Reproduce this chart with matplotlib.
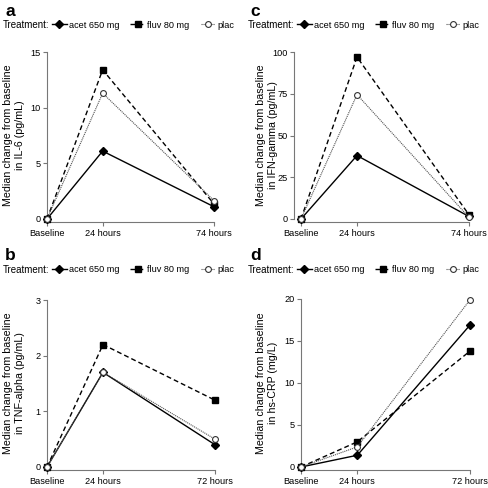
import matplotlib
matplotlib.use("Agg")
import matplotlib.pyplot as plt
from matplotlib.lines import Line2D

plt.rcParams['font.family'] = ['Liberation Sans', 'DejaVu Sans']

hours = [0, 24, 72]
xlabels_74 = ["Baseline", "24 hours", "74 hours"]
xlabels_72 = ["Baseline", "24 hours", "72 hours"]

il6_acet = [0, 6.1, 1.1]
il6_fluv = [0, 13.4, 1.35]
il6_plac = [0, 11.3, 1.65]

tnf_acet = [0, 1.7, 0.4]
tnf_fluv = [0, 2.2, 1.2]
tnf_plac = [0, 1.7, 0.5]

ifn_acet = [0, 38, 1.5]
ifn_fluv = [0, 97, 2.5]
ifn_plac = [0, 74.5, 1.0]

crp_acet = [0, 1.4, 16.9]
crp_fluv = [0, 3.0, 13.8]
crp_plac = [0, 2.4, 19.9]

series_names = ["acet 650 mg", "fluv 80 mg", "plac"]

W = 488.0
fig = plt.figure(figsize=(4.88, 4.88), dpi=100)

styles = [
    dict(color='black', ls='-', lw=1.0, marker='D', ms=3.6, mfc='black', mec='black'),
    dict(color='black', ls=(0, (3.5, 2.2)), lw=1.0, marker='s', ms=3.8, mfc='black', mec='black'),
    dict(color='#555555', ls=(0, (1, 0.8)), lw=0.8, marker='o', ms=4.2, mfc='white', mec='#333333', mew=0.8),
]

spine_col = '#777777'


def panel(rect, label, data, yticks, ylabel, xlabels, left_px, top_px, ylab_x, left_off=0):
    ax = fig.add_axes(rect)
    for vals, st in zip(data, styles):
        ax.plot(hours, vals, clip_on=False, zorder=3, **st)
    ax.set_xlim(0, 72)
    ax.set_ylim(0, yticks[-1])
    for s in ['top', 'right']:
        ax.spines[s].set_visible(False)
    ax.spines['left'].set_bounds(0, yticks[-1])
    ax.spines['left'].set_position(('outward', left_off))
    ax.spines['bottom'].set_position(('outward', 2.5))
    ax.spines['bottom'].set_bounds(0, 72)
    for s in ['left', 'bottom']:
        ax.spines[s].set_color(spine_col)
        ax.spines[s].set_linewidth(0.8)
    ax.set_yticks(yticks)
    ax.set_yticklabels([str(t) for t in yticks])
    ax.set_xticks(hours)
    ax.set_xticklabels(xlabels)
    ax.tick_params(axis='both', colors=spine_col, labelcolor='black', labelsize=6.6,
                   length=3, width=0.8, pad=1.5)
    ax.patch.set_visible(False)
    # panel label
    fig.text((left_px + 1) / W, 1 - top_px / W, label, fontsize=12.5, fontweight='bold',
             ha='left', va='center')
    # legend row
    fig.text((left_px - 1) / W, 1 - (top_px + 14) / W, "Treatment:", fontsize=7.0,
             ha='left', va='center')
    handles = [Line2D([], [], **st) for st in styles]
    fig.legend(handles, series_names, loc='center left',
               bbox_to_anchor=((left_px + 48) / W, 1 - (top_px + 14) / W),
               ncol=3, frameon=False, fontsize=6.6, handlelength=1.6,
               handletextpad=0.25, columnspacing=1.2, borderpad=0, borderaxespad=0)
    # y label
    pos = ax.get_position()
    fig.text(ylab_x / W, (pos.y0 + pos.y1) / 2, ylabel, rotation=90, fontsize=7.7,
             ha='center', va='center', multialignment='center', linespacing=1.15)
    return ax


panel([47 / W, 1 - 219 / W, 167 / W, 167 / W], "a",
      [il6_acet, il6_fluv, il6_plac], [0, 5, 10, 15],
      "Median change from baseline\nin IL-6 (pg/mL)", xlabels_74, 4, 11, 14)

panel([301 / W, 1 - 219 / W, 168 / W, 167 / W], "c",
      [ifn_acet, ifn_fluv, ifn_plac], [0, 25, 50, 75, 100],
      "Median change from baseline\nin IFN-gamma (pg/mL)", xlabels_74, 249, 11, 267, left_off=5)

panel([47 / W, 1 - 467 / W, 168 / W, 167 / W], "b",
      [tnf_acet, tnf_fluv, tnf_plac], [0, 1, 2, 3],
      "Median change from baseline\nin TNF-alpha (pg/mL)", xlabels_72, 4, 256, 14)

panel([301 / W, 1 - 467 / W, 169 / W, 168 / W], "d",
      [crp_acet, crp_fluv, crp_plac], [0, 5, 10, 15, 20],
      "Median change from baseline\nin hs-CRP (mg/L)", xlabels_72, 249, 256, 267)

fig.savefig("out.png", dpi=100)
